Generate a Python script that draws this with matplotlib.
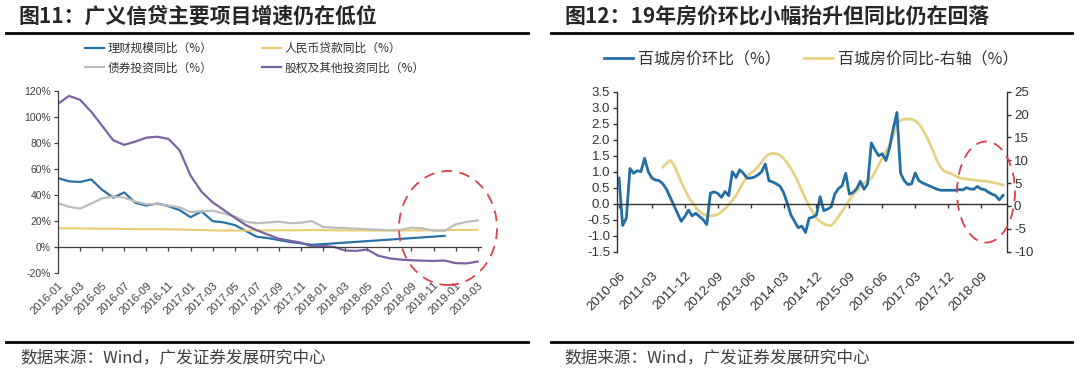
import matplotlib
matplotlib.use("Agg")
import matplotlib.pyplot as plt
from matplotlib.patches import Ellipse
from matplotlib.lines import Line2D
import numpy as np

plt.rcParams['font.family'] = ['Noto Sans CJK SC', 'DejaVu Sans']
plt.rcParams['axes.unicode_minus'] = False

W, H = 1080, 373
NUM_FONT = 'Liberation Sans'

# ---------------- 图11 data, monthly 2016-01 .. 2019-03 ----------------
left_ticklabels = ['2016-01', '2016-03', '2016-05', '2016-07', '2016-09', '2016-11',
                   '2017-01', '2017-03', '2017-05', '2017-07', '2017-09', '2017-11',
                   '2018-01', '2018-03', '2018-05', '2018-07', '2018-09', '2018-11',
                   '2019-01', '2019-03']

wmp_yoy = [53, 50.5, 50, 52, 44, 38, 42, 34, 32, 33.5, 31.5, 28.5, 23, 27.5, 20, 19,
           17, 12.5, 8, 7, 5.5, 4, 3, 1.8,
           None, None, None, None, None, None, None, None, None, None, None,
           8.7, None, None, None]
loan_yoy = [14.5, 14.5, 14.4, 14.3, 14.2, 14.1, 14.0, 13.9, 13.8, 13.8,
            13.7, 13.6, 13.4, 13.1, 12.9, 12.8, 12.8, 12.8, 12.9, 12.9,
            13.0, 13.0, 13.0, 13.1, 13.1, 13.0, 12.9, 12.8, 12.8, 12.7,
            12.7, 12.8, 12.9, 13.0, 13.0, 13.1, 13.2, 13.2, 13.4]
bond_yoy = [33.7, 31, 29.6, 33.4, 37.5, 38.8, 38, 35, 33, 33,
            32, 30.6, 27, 27.5, 28, 26, 23.5, 19.6, 18.4, 19,
            19.6, 18.4, 18.8, 20, 15.5, 15, 14.7, 14.2, 13.8, 13.4,
            13, 13.3, 15, 14.5, 12.8, 12.5, 17.5, 19.5, 20.5]
equity_yoy = [110, 116, 113, 104, 93, 82, 78.5, 81, 84, 84.7,
              83, 74.5, 55, 42.5, 34.4, 28.6, 22.7, 17, 13, 9.7,
              6.5, 5, 3.5, 0.5, 1.0, 0.2, -2.5, -2.8, -1.8, -6.5,
              -8.5, -9.5, -10, -10.3, -10.5, -10.2, -12.2, -12.4, -11]

# ---------------- 图12 data, monthly 2010-06 .. 2019-03 ----------------
right_ticklabels = ['2010-06', '2011-03', '2011-12', '2012-09', '2013-06', '2014-03',
                    '2014-12', '2015-09', '2016-06', '2017-03', '2017-12', '2018-09']

house_mom = [0.8, -0.68, -0.45, 1.1, 0.95, 1.03, 1.0, 1.42, 1.0, 0.8,
             0.74, 0.72, 0.62, 0.45, 0.2, -0.05, -0.3, -0.55, -0.4, -0.2,
             -0.38, -0.3, -0.4, -0.5, -0.65, 0.33, 0.37, 0.32, 0.2, 0.38,
             0.25, 1.0, 0.82, 1.06, 0.95, 0.8, 0.8, 0.83, 0.9, 1.0,
             1.24, 0.72, 0.68, 0.62, 0.55, 0.35, 0.02, -0.35, -0.55, -0.75,
             -0.7, -0.9, -0.45, -0.42, -0.35, 0.22, -0.22, -0.17, -0.1, 0.3,
             0.47, 0.56, 0.95, 0.3, 0.35, 0.47, 0.7, 0.45, 0.62, 1.9,
             1.68, 1.5, 1.56, 1.35, 1.75, 2.35, 2.85, 0.95, 0.72, 0.6,
             0.62, 0.96, 0.72, 0.65, 0.6, 0.55, 0.5, 0.45, 0.42, 0.42,
             0.42, 0.42, 0.42, 0.44, 0.43, 0.5, 0.46, 0.45, 0.54, 0.46,
             0.44, 0.36, 0.3, 0.25, 0.12, 0.26]
house_yoy = [None] * 12 + [
    8.5, 9.3, 10.0, 9.0, 7.2, 5.3, 3.6, 2.0,
    0.8, -0.3, -1.2, -1.8, -2.1, -2.2, -2.1, -1.8, -1.3, -0.6,
    0.3, 1.2, 2.3, 3.7, 5.2, 6.4, 7.2, 7.7, 8.6, 9.6,
    10.7, 11.3, 11.5, 11.4, 11.1, 10.4, 9.4, 8.2, 6.8, 5.2,
    3.4, 1.6, -0.1, -1.4, -2.7, -3.4, -3.9, -4.2, -4.3, -3.5,
    -2.3, -1.2, 0.0, 1.3, 2.4, 3.3, 4.3, 5.0, 5.5, 6.1,
    7.4, 9.0, 10.5, 11.9, 13.4, 15.5, 17.9, 18.8, 19.0, 19.0,
    19.0, 18.7, 17.9, 16.8, 15.4, 13.6, 11.8, 9.8, 8.4, 7.6,
    7.3, 7.0, 6.6, 6.2, 6.0, 5.9, 5.8, 5.7, 5.6, 5.5,
    5.5, 5.3, 5.2, 5.0, 4.8, 4.6]


def as_arr(vals):
    return np.array([np.nan if v is None else v for v in vals], dtype=float)


def fx(px):
    return px / W


def fy(py):
    return 1 - py / H


fig = plt.figure(figsize=(W / 100, H / 100), dpi=100)

# ======================= left chart =======================
ax = fig.add_axes([fx(58), fy(273.3), fx(481) - fx(58), fy(90.7) - fy(273.3)])
x = np.arange(len(equity_yoy))
wmp = as_arr(wmp_yoy)
ok = ~np.isnan(wmp)
l_wmp, = ax.plot(x[ok], wmp[ok], color='#2b70a6', lw=1.6)
l_loan, = ax.plot(x, loan_yoy, color='#eccb72', lw=1.5)
l_bond, = ax.plot(x, bond_yoy, color='#bdbdbd', lw=1.6)
l_eq, = ax.plot(x, equity_yoy, color='#7b64a3', lw=1.6)

ax.set_xlim(0, 38.3)
ax.set_ylim(-20, 120)
ax.set_yticks(np.arange(-20, 121, 20))
ax.set_yticklabels([f'{v}%' for v in range(-20, 121, 20)])
for s in ['top', 'right']:
    ax.spines[s].set_visible(False)
ax.spines['bottom'].set_position(('data', 0))
for s in ['left', 'bottom']:
    ax.spines[s].set_color('#404040')
    ax.spines[s].set_linewidth(0.9)
ax.set_xticks(np.arange(0, 39, 2))
ax.tick_params(axis='x', direction='out', length=3, width=0.9, color='#404040',
               labelbottom=False)
ax.tick_params(axis='y', direction='out', length=3, width=0.9, color='#404040',
               labelsize=7.5, labelcolor='#404040', pad=2)
for t in ax.get_yticklabels():
    t.set_fontfamily(NUM_FONT)
sec = ax.secondary_xaxis('bottom')
sec.set_xticks(np.arange(0, 39, 2))
sec.set_xticklabels(left_ticklabels, rotation=45, ha='right', rotation_mode='anchor',
                    fontsize=8, color='#404040', fontfamily=NUM_FONT)
sec.spines['bottom'].set_visible(False)
sec.tick_params(length=0, pad=5)

ax.legend([l_wmp, l_bond, l_loan, l_eq],
          ['理财规模同比（%）', '债券投资同比（%）', '人民币贷款同比（%）', '股权及其他投资同比（%）'],
          ncol=2, loc='upper left', bbox_to_anchor=(fx(85), fy(42)),
          bbox_transform=fig.transFigure, frameon=False, fontsize=8.5,
          handlelength=1.6, handletextpad=0.3, columnspacing=4.2,
          labelspacing=0.55, borderaxespad=0, borderpad=0, labelcolor='#333333')

# ======================= right chart =======================
bx = fig.add_axes([fx(617), fy(251.7), fx(1007) - fx(617), fy(91.7) - fy(251.7)])
bx2 = bx.twinx()
xr = np.arange(len(house_mom))
yoy = as_arr(house_yoy)
ok2 = ~np.isnan(yoy)
l_yoy, = bx2.plot(xr[ok2], yoy[ok2], color='#e6d285', lw=2.0)
l_mom, = bx.plot(xr, house_mom, color='#236ea3', lw=2.0)
bx.set_zorder(bx2.get_zorder() + 1)
bx.patch.set_visible(False)

bx.set_xlim(-0.55, 106.1)
bx.set_ylim(-1.5, 3.5)
bx.set_yticks(np.arange(-1.5, 3.51, 0.5))
bx.set_yticklabels([f'{v:.1f}' for v in np.arange(-1.5, 3.51, 0.5)])
bx2.set_ylim(-10, 25)
bx2.set_yticks(np.arange(-10, 26, 5))
for s in ['top', 'right']:
    bx.spines[s].set_visible(False)
for s in ['top', 'left', 'bottom']:
    bx2.spines[s].set_visible(False)
bx.spines['bottom'].set_position(('data', 0))
for sp in [bx.spines['left'], bx.spines['bottom'], bx2.spines['right']]:
    sp.set_color('#333333')
    sp.set_linewidth(1.0)
bx.set_xticks(np.arange(0, len(house_mom), 9))
bx.tick_params(axis='x', direction='out', length=3, width=1.0, color='#333333',
               labelbottom=False)
bx.tick_params(axis='y', direction='out', length=3, width=1.0, color='#333333',
               labelsize=9.5, labelcolor='#333333', pad=2)
bx2.tick_params(axis='y', direction='out', length=3, width=1.0, color='#333333',
                labelsize=9.5, labelcolor='#333333', pad=2)
for t in bx.get_yticklabels() + bx2.get_yticklabels():
    t.set_fontfamily(NUM_FONT)
sec2 = bx.secondary_xaxis('bottom')
sec2.set_xticks(np.arange(0, len(house_mom), 9))
sec2.set_xticklabels(right_ticklabels, rotation=45, ha='right', rotation_mode='anchor',
                     fontsize=9.5, color='#333333', fontfamily=NUM_FONT)
sec2.spines['bottom'].set_visible(False)
sec2.tick_params(length=0, pad=13)

bx.legend([l_mom, l_yoy], ['百城房价环比（%）', '百城房价同比-右轴（%）'],
          ncol=2, loc='upper left', bbox_to_anchor=(fx(604), fy(51)),
          bbox_transform=fig.transFigure, frameon=False, fontsize=11.5,
          handlelength=1.8, handletextpad=0.3, columnspacing=1.5,
          borderaxespad=0, borderpad=0, labelcolor='#333333')

# ======================= frame texts =======================
fig.text(fx(19), fy(16), '图11：广义信贷主要项目增速仍在低位', fontsize=15,
         fontweight='bold', color='#262626', va='center', ha='left')
fig.text(fx(565), fy(17), '图12：19年房价环比小幅抬升但同比仍在回落', fontsize=15,
         fontweight='bold', color='#262626', va='center', ha='left')
for x0, x1 in [(6, 528), (551, 1072)]:
    fig.add_artist(Line2D([fx(x0), fx(x1)], [fy(32.5), fy(32.5)], color='black', lw=2.0,
                          transform=fig.transFigure))
    fig.add_artist(Line2D([fx(x0), fx(x1)], [fy(341.7), fy(341.7)], color='black', lw=2.0,
                          transform=fig.transFigure))
fig.text(fx(20), fy(358), '数据来源：Wind，广发证券发展研究中心', fontsize=12,
         color='#404040', va='center', ha='left')
fig.text(fx(564), fy(358), '数据来源：Wind，广发证券发展研究中心', fontsize=12,
         color='#404040', va='center', ha='left')

# red dashed highlight ellipses
for cx, cy, w, h in [(448, 228, 98, 114), (986, 192, 58, 101)]:
    fig.add_artist(Ellipse((fx(cx), fy(cy)), w / W, h / H, transform=fig.transFigure,
                           fill=False, edgecolor='#d9414b', lw=1.3,
                           linestyle=(0, (6, 4)), zorder=10))

fig.savefig('out.png', dpi=100)
